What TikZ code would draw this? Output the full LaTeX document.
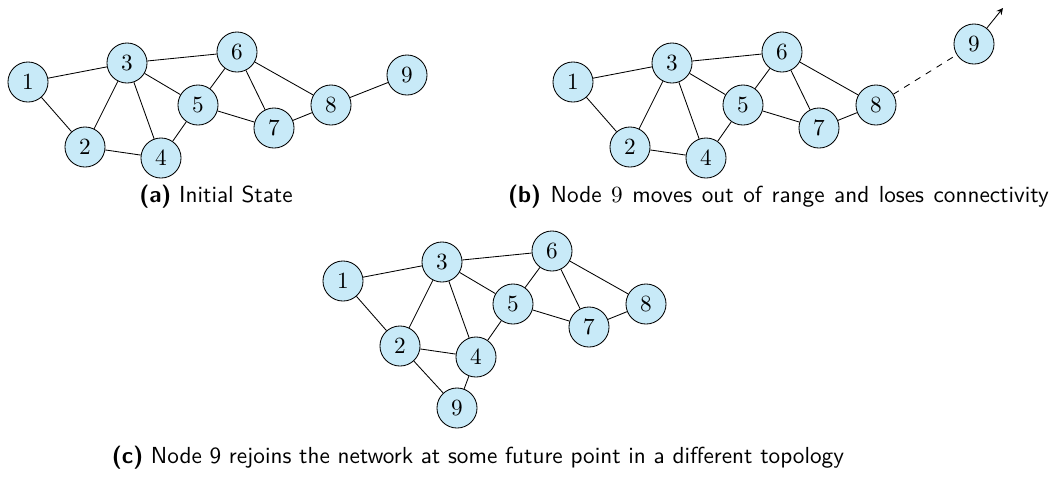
\documentclass[tikz,border=0pt]{standalone}
\usepackage{tikz}
\usepackage{xcolor}
\usepackage{amsmath,amsfonts,amssymb}
\definecolor{nodeblue}{RGB}{200,234,248}
\tikzset{vtx/.style={draw=black, fill=nodeblue, circle, minimum size=18.9pt, inner sep=0pt,
    font=\fontsize{10.95}{13.6}\selectfont},
  capt/.style={font=\fontsize{10.95}{13.6}\selectfont\sffamily, inner sep=0pt}}

\begin{document}
\begin{tikzpicture}[scale=0.1658]
\useasboundingbox (0,0) rectangle (106,-47.8);
% (a) initial state
\node [vtx] (a1) at (2.8,-8.2) {$1$};
\node [vtx] (a2) at (8.5,-14.7) {$2$};
\node [vtx] (a3) at (12.7,-6.3) {$3$};
\node [vtx] (a4) at (16.1,-15.8) {$4$};
\node [vtx] (a5) at (19.8,-10.5) {$5$};
\node [vtx] (a6) at (23.7,-5.2) {$6$};
\node [vtx] (a7) at (27.4,-12.8) {$7$};
\node [vtx] (a8) at (33.1,-10.5) {$8$};
\node [vtx] (a9) at (40.7,-7.5) {$9$};
\draw [black] (a1) -- (a3);
\draw [black] (a1) -- (a2);
\draw [black] (a2) -- (a3);
\draw [black] (a2) -- (a4);
\draw [black] (a3) -- (a4);
\draw [black] (a3) -- (a5);
\draw [black] (a3) -- (a6);
\draw [black] (a4) -- (a5);
\draw [black] (a5) -- (a6);
\draw [black] (a5) -- (a7);
\draw [black] (a6) -- (a7);
\draw [black] (a6) -- (a8);
\draw [black] (a7) -- (a8);
\draw [black] (a8) -- (a9);
\node [capt] (capa) at (21.6,-19.7) {\textbf{(a)} Initial State};
% (b) node 9 leaves
\node [vtx] (b1) at (57.3,-8.2) {$1$};
\node [vtx] (b2) at (63.0,-14.7) {$2$};
\node [vtx] (b3) at (67.2,-6.3) {$3$};
\node [vtx] (b4) at (70.6,-15.8) {$4$};
\node [vtx] (b5) at (74.3,-10.5) {$5$};
\node [vtx] (b6) at (78.2,-5.2) {$6$};
\node [vtx] (b7) at (81.9,-12.8) {$7$};
\node [vtx] (b8) at (87.6,-10.5) {$8$};
\node [vtx] (b9) at (97.4,-4.4) {$9$};
\coordinate (b9end) at (100.3,-0.8);
\draw [black] (b1) -- (b3);
\draw [black] (b1) -- (b2);
\draw [black] (b2) -- (b3);
\draw [black] (b2) -- (b4);
\draw [black] (b3) -- (b4);
\draw [black] (b3) -- (b5);
\draw [black] (b3) -- (b6);
\draw [black] (b4) -- (b5);
\draw [black] (b5) -- (b6);
\draw [black] (b5) -- (b7);
\draw [black] (b6) -- (b7);
\draw [black] (b6) -- (b8);
\draw [black] (b7) -- (b8);
\draw [black, dashed] (b8) -- (b9);
\draw [black, -stealth] (b9) -- (b9end);
\node [capt] (capb) at (77.85,-19.7) {\spaceskip=4.5pt\relax\textbf{(b)} Node $9$ moves out of range and loses connectivity};
% (c) node 9 rejoins
\node [vtx] (c1) at (34.3,-28.1) {$1$};
\node [vtx] (c2) at (40.0,-34.6) {$2$};
\node [vtx] (c3) at (44.2,-26.2) {$3$};
\node [vtx] (c4) at (47.6,-35.7) {$4$};
\node [vtx] (c5) at (51.3,-30.4) {$5$};
\node [vtx] (c6) at (55.2,-25.1) {$6$};
\node [vtx] (c7) at (58.9,-32.7) {$7$};
\node [vtx] (c8) at (64.6,-30.4) {$8$};
\node [vtx] (c9) at (45.7,-40.8) {$9$};
\draw [black] (c1) -- (c3);
\draw [black] (c1) -- (c2);
\draw [black] (c2) -- (c3);
\draw [black] (c2) -- (c4);
\draw [black] (c3) -- (c4);
\draw [black] (c3) -- (c5);
\draw [black] (c3) -- (c6);
\draw [black] (c4) -- (c5);
\draw [black] (c5) -- (c6);
\draw [black] (c5) -- (c7);
\draw [black] (c6) -- (c7);
\draw [black] (c6) -- (c8);
\draw [black] (c7) -- (c8);
\draw [black] (c2) -- (c9);
\draw [black] (c4) -- (c9);
\node [capt] (capc) at (47.8,-45.8) {\textbf{(c)} Node 9 rejoins the network at some future point in a different topology};
\end{tikzpicture}
\end{document}
